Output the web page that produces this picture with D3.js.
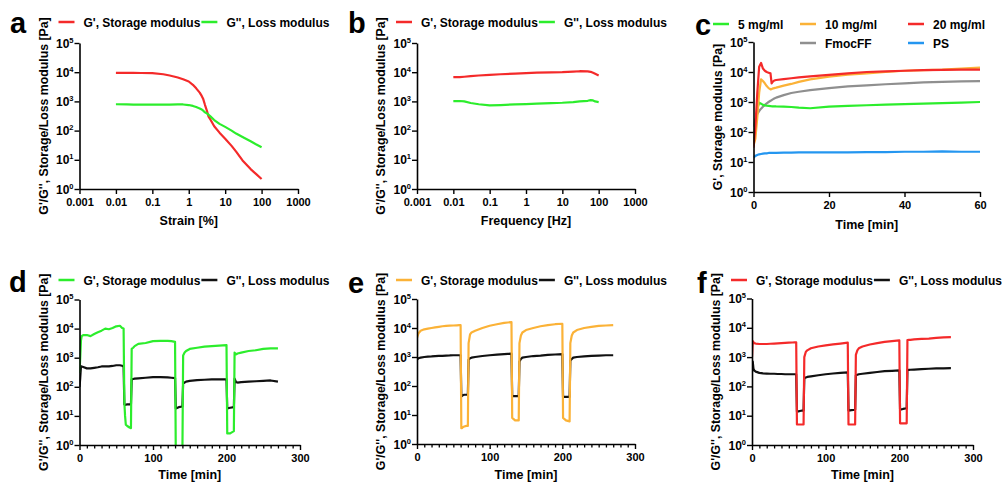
<!DOCTYPE html>
<html>
<head>
<meta charset="utf-8">
<script src="https://cdn.jsdelivr.net/npm/d3@7"></script>
<style>
body { margin: 0; background: #fff; }
svg { font-family: "Liberation Sans", Arial, sans-serif; font-weight: bold; }
</style>
</head>
<body>
<svg id="chart" width="1008" height="483"></svg>
<script>
// ---- data ----
const modTicks = [1, 10, 100, 1000, 10000, 100000];
const logTicks = [0.001, 0.01, 0.1, 1, 10, 100, 1000];
const logTickLabels = ["0.001", "0.01", "0.1", "1", "10", "100", "1000"];

// a: strain sweep
const strain = [0.01, 0.02, 0.03, 0.05, 0.1, 0.2, 0.3, 0.5, 0.7, 1, 1.3, 1.6, 2, 2.2, 2.5, 2.8, 3.2, 3.5, 4, 5, 7, 10, 15, 20, 30, 50, 70, 100];
const strainStorage = [9500, 9500, 9500, 9400, 9300, 8500, 7700, 6600, 5700, 4800, 3700, 2800, 2000, 1650, 1200, 750, 450, 300, 230, 140, 85, 53, 30, 19, 9.5, 4.8, 3.3, 2.2];
const strainLoss = [800, 790, 780, 775, 770, 775, 780, 790, 785, 750, 700, 640, 575, 540, 480, 420, 380, 350, 300, 230, 170, 134, 100, 79, 60, 43, 34, 27];

// b: frequency sweep
const freq = [0.01, 0.015, 0.02, 0.03, 0.05, 0.1, 0.2, 0.5, 1, 2, 5, 10, 20, 30, 50, 60, 70, 80, 100];
const freqStorage = [6760, 6800, 7000, 7300, 7700, 8100, 8500, 9000, 9300, 9600, 9800, 10000, 10500, 10800, 10700, 10300, 9500, 8800, 7700];
const freqLoss = [1030, 1030, 1000, 880, 800, 730, 750, 790, 810, 840, 870, 900, 950, 1000, 1050, 1110, 1080, 1000, 950];

// c: time sweep
const cureTime = [0, 0.5, 1, 1.5, 2, 2.5, 3, 3.5, 4, 4.5, 4.8, 5, 5.5, 6, 8, 10, 12, 15, 20, 25, 30, 35, 40, 45, 50, 55, 60];
const cure5 = [45, 150, 600, 950, 880, 800, 770, 750, 740, 730, 720, 720, 715, 710, 700, 680, 650, 620, 700, 740, 780, 820, 850, 880, 920, 960, 1000];
const cure10 = [35, 60, 300, 2000, 5700, 5000, 4200, 3400, 2900, 2650, 2700, 2800, 2900, 3000, 3500, 4000, 4700, 5700, 7000, 8200, 9000, 10000, 11000, 11500, 12000, 13000, 14000];
const cure20 = [30, 150, 2000, 15000, 20000, 13000, 11000, 10000, 9500, 9000, 4200, 4600, 5200, 5400, 5800, 6200, 6600, 7100, 8000, 9000, 10000, 10500, 11000, 11500, 11800, 12000, 12000];
const cureFmoc = [150, 250, 400, 500, 600, 700, 800, 900, 1000, 1100, 1150, 1200, 1300, 1400, 1700, 2000, 2200, 2500, 2900, 3300, 3600, 3900, 4200, 4500, 4700, 4900, 5000];
const curePS = [14, 16, 17, 18, 18.5, 19, 19.5, 19.5, 20, 20, 20, 20, 20, 20, 20.5, 20.5, 21, 21, 21, 21, 21.5, 21.5, 22, 22, 22.5, 22, 22];

// d-f: step strain recovery
const stepTime = [0, 1, 2, 3, 5,
  10, 15, 20, 25, 30, 35, 40, 45, 50, 55,
  58, 60,
  61, 62, 63, 65, 68, 70,
  71, 73, 75, 80,
  90, 100, 110, 120, 125, 130,
  131, 135, 140,
  141, 143, 145, 150,
  160, 170, 180, 190, 200,
  201, 205, 210,
  211, 213, 215, 220,
  230, 240, 250, 260, 270];

const dStorage = [300, 1000, 4000, 5500, 6000,
  6000, 5500, 6500, 7500, 8500, 10000, 9500, 10500, 12000, 12500,
  10500, 10000,
  30, 10, 5, 4.5, 4, 3.8,
  2000, 2200, 2500, 3000,
  3200, 3700, 3800, 3800, 3700, 3500,
  0.5, 0.5, 0.5,
  1200, 1500, 1700, 2000,
  2200, 2400, 2500, 2600, 2700,
  2.5, 2.5, 3,
  1500, 1300, 1400, 1500,
  1700, 1800, 2000, 2100, 2100];
const dLoss = [100, 200, 500, 500, 480,
  430, 430, 450, 470, 500, 500, 500, 520, 550, 550,
  530, 500,
  25, 24, 24, 25, 25, 25,
  180, 185, 190, 195,
  205, 215, 215, 210, 205, 200,
  18, 20, 21,
  130, 140, 150, 160,
  170, 175, 180, 180, 180,
  18, 19, 20,
  190, 145, 140, 145,
  150, 155, 160, 165, 150];

const eStorage = [4500, 5500, 6500, 7000, 8000,
  9000, 9500, 10000, 10500, 11000, 11500, 11800, 12000, 12200, 12400,
  12500, 12500,
  3.5, 3.5, 3.8, 4, 4.2, 4.2,
  3000, 6000, 7000, 8000,
  10000, 12000, 13500, 15000, 15500, 16000,
  8, 6.5, 6.5,
  3000, 5500, 7000, 8500,
  10000, 11500, 12500, 13500, 14000,
  8, 6.5, 6,
  3000, 5500, 7000, 8500,
  10000, 11000, 11800, 12200, 12500];
const eLoss = [800, 850, 900, 920, 950,
  1000, 1030, 1050, 1080, 1100, 1100, 1120, 1130, 1150, 1150,
  1150, 1150,
  45, 45, 48, 50, 50, 50,
  800, 900, 950, 1000,
  1080, 1150, 1200, 1250, 1280, 1300,
  45, 45, 45,
  700, 850, 950, 1000,
  1080, 1120, 1180, 1220, 1250,
  42, 42, 42,
  750, 850, 950, 1000,
  1050, 1100, 1120, 1150, 1150];

const fStorage = [1000, 3500, 3200, 3000, 2900,
  2800, 2800, 2800, 2850, 2900, 2950, 3000, 3050, 3100, 3150,
  3200, 3200,
  5, 5, 5, 5, 5, 5,
  1000, 1500, 1700, 2000,
  2300, 2500, 2700, 2900, 3000, 3100,
  5, 5, 5,
  1200, 1700, 2000, 2300,
  2700, 3000, 3300, 3500, 3700,
  5.5, 5.5, 5.5,
  3800, 3850, 3900, 4000,
  4200, 4300, 4500, 4700, 4800];
const fLoss = [300, 700, 400, 350, 320,
  290, 280, 275, 270, 270, 265, 265, 260, 260, 260,
  260, 260,
  14, 14, 14, 14.5, 15, 15,
  190, 200, 210, 220,
  240, 260, 275, 290, 295, 300,
  15, 15.5, 16,
  240, 250, 260, 270,
  290, 310, 330, 340, 350,
  16, 17, 18,
  360, 365, 370, 375,
  390, 400, 410, 415, 420];

const RED = '#f42a2a', GREEN = '#2ced2c', ORANGE = '#fbb237', GRAY = '#8f8f8f', BLUE = '#2496f0', BLACK = '#111';
const twoTitle = "G'/G'', Storage/Loss modulus [Pa]";

const svg = d3.select('#chart');

const panels = [
  { id: 'a', left: 79.5, right: 298, top: 43, bottom: 189, log: true, xTitle: 'Strain [%]', titleDy: 36, yTitle: twoTitle,
    letterX: 10, letterY: 33, legY: 22,
    legend: [{ name: "G', Storage modulus", color: RED }, { name: "G'', Loss modulus", color: GREEN }],
    series: [{ x: strain, v: strainStorage, color: RED }, { x: strain, v: strainLoss, color: GREEN }] },
  { id: 'b', left: 417, right: 635, top: 43, bottom: 189, log: true, xTitle: 'Frequency [Hz]', titleDy: 36, yTitle: twoTitle,
    letterX: 348, letterY: 33, legY: 22,
    legend: [{ name: "G', Storage modulus", color: RED }, { name: "G'', Loss modulus", color: GREEN }],
    series: [{ x: freq, v: freqStorage, color: RED }, { x: freq, v: freqLoss, color: GREEN }] },
  { id: 'c', left: 753.5, right: 980, top: 42, bottom: 192, domain: [0, 60], ticks: [0, 20, 40, 60], xTitle: 'Time [min]', titleDy: 37, yTitle: "G', Storage modulus [Pa]",
    letterX: 695, letterY: 35,
    series: [{ x: cureTime, v: curePS, color: BLUE }, { x: cureTime, v: cureFmoc, color: GRAY },
      { x: cureTime, v: cure5, color: GREEN }, { x: cureTime, v: cure10, color: ORANGE }, { x: cureTime, v: cure20, color: RED }] },
  { id: 'd', left: 79.5, right: 300, top: 299.5, bottom: 445, domain: [0, 300], ticks: [0, 100, 200, 300], minor: true, xTitle: 'Time [min]', titleDy: 34, yTitle: twoTitle,
    letterX: 9, letterY: 292, legY: 280,
    legend: [{ name: "G', Storage modulus", color: GREEN }, { name: "G'', Loss modulus", color: BLACK }],
    series: [{ x: stepTime, v: dLoss, color: BLACK }, { x: stepTime, v: dStorage, color: GREEN }] },
  { id: 'e', left: 417, right: 635, top: 299, bottom: 444, domain: [0, 300], ticks: [0, 100, 200, 300], minor: true, xTitle: 'Time [min]', titleDy: 35, yTitle: twoTitle,
    letterX: 348, letterY: 293, legY: 280,
    legend: [{ name: "G', Storage modulus", color: ORANGE }, { name: "G'', Loss modulus", color: BLACK }],
    series: [{ x: stepTime, v: eLoss, color: BLACK }, { x: stepTime, v: eStorage, color: ORANGE }] },
  { id: 'f', left: 752, right: 973, top: 298.5, bottom: 445, domain: [0, 300], ticks: [0, 100, 200, 300], minor: true, xTitle: 'Time [min]', titleDy: 34, yTitle: twoTitle,
    letterX: 697, letterY: 293, legY: 280,
    legend: [{ name: "G', Storage modulus", color: RED }, { name: "G'', Loss modulus", color: BLACK }],
    series: [{ x: stepTime, v: fLoss, color: BLACK }, { x: stepTime, v: fStorage, color: RED }] }
];

panels.forEach(drawPanel);

// legend for c (two rows, three columns)
const cLegend = [
  { name: '5 mg/ml', color: GREEN, col: 0, row: 0 },
  { name: '10 mg/ml', color: ORANGE, col: 1, row: 0 },
  { name: '20 mg/ml', color: RED, col: 2, row: 0 },
  { name: 'FmocFF', color: GRAY, col: 1, row: 1 },
  { name: 'PS', color: BLUE, col: 2, row: 1 }
];
const cColX = [713, 800, 908];
cLegend.forEach(function(d) {
  let ly = 24 + d.row * 19;
  let sx = cColX[d.col];
  svg.append('line').attr('x1', sx).attr('x2', sx + 16).attr('y1', ly).attr('y2', ly)
    .attr('stroke', d.color).attr('stroke-width', 2.5);
  svg.append('text').attr('x', sx + 25).attr('y', ly + 4.5).attr('font-size', 12).text(d.name);
});

function drawPanel(p) {
  let g = svg.append('g');
  let x = p.log
    ? d3.scaleLog().domain([0.001, 1000]).range([p.left, p.right])
    : d3.scaleLinear().domain(p.domain).range([p.left, p.right]);
  let y = d3.scaleLog().domain([1, 100000]).range([p.bottom, p.top]);

  // clip so values below 10^0 stop at the axis
  svg.append('clipPath').attr('id', 'clip-' + p.id)
    .append('rect')
    .attr('x', p.left).attr('y', p.top - 20)
    .attr('width', p.right - p.left + 5).attr('height', p.bottom - p.top + 20);

  let line = d3.line().x(d => x(d[0])).y(d => y(d[1]));
  p.series.forEach(function(s) {
    g.append('path')
      .datum(s.v.map((v, i) => [s.x[i], v]))
      .attr('clip-path', 'url(#clip-' + p.id + ')')
      .attr('fill', 'none')
      .attr('stroke', s.color)
      .attr('stroke-width', 2.2)
      .attr('stroke-linejoin', 'round')
      .attr('d', line);
  });

  // y axis
  let ya = g.append('g').attr('transform', 'translate(' + p.left + ',0)')
    .call(d3.axisLeft(y).tickValues(modTicks).tickSize(5).tickSizeOuter(0).tickFormat(''));
  ya.selectAll('text').remove();
  modTicks.forEach(function(v, i) {
    let t = g.append('text').attr('x', p.left - 6).attr('y', y(v) + 4.5).attr('text-anchor', 'end');
    t.append('tspan').attr('font-size', 12).text('10');
    t.append('tspan').attr('font-size', 7.5).attr('dy', -5).text(i);
  });

  // x axis
  let xAxis = p.log
    ? d3.axisBottom(x).tickValues(logTicks).tickFormat((d, i) => logTickLabels[i])
    : d3.axisBottom(x).tickValues(p.ticks).tickFormat(d3.format('d'));
  let xa = g.append('g').attr('transform', 'translate(0,' + p.bottom + ')')
    .call(xAxis.tickSize(5).tickSizeOuter(0).tickPadding(4));
  if (p.minor) {
    let minorTicks = d3.range(p.domain[0], p.domain[1] + 1, 10).filter(d => d % 100 !== 0);
    g.append('g').attr('transform', 'translate(0,' + p.bottom + ')')
      .call(d3.axisBottom(x).tickValues(minorTicks).tickSize(3.5).tickFormat(''))
      .call(a => a.select('.domain').remove())
      .selectAll('line').attr('stroke-width', 1.3);
  }
  [ya, xa].forEach(function(a) {
    a.attr('font-family', null).attr('font-size', null);
    a.select('.domain').attr('stroke', '#000').attr('stroke-width', 1.6);
    a.selectAll('.tick line').attr('stroke', '#000').attr('stroke-width', 1.4);
  });
  xa.selectAll('text').attr('font-size', 11).attr('fill', '#000');

  // titles
  g.append('text')
    .attr('x', (p.left + p.right) / 2).attr('y', p.bottom + p.titleDy)
    .attr('text-anchor', 'middle').attr('font-size', 12.5)
    .text(p.xTitle);
  g.append('text')
    .attr('transform', 'translate(' + (p.left - 32) + ',' + ((p.top + p.bottom) / 2) + ') rotate(-90)')
    .attr('text-anchor', 'middle').attr('font-size', 12.3)
    .text(p.yTitle);

  // panel letter
  g.append('text').attr('x', p.letterX).attr('y', p.letterY).attr('font-size', 29).text(p.id);

  // legend
  if (p.legend) {
    let lx = p.left - 21;
    p.legend.forEach(function(item, i) {
      g.append('line').attr('x1', lx).attr('x2', lx + 16).attr('y1', p.legY).attr('y2', p.legY)
        .attr('stroke', item.color).attr('stroke-width', 2.5);
      let t = g.append('text').attr('x', lx + 25).attr('y', p.legY + 4.5).attr('font-size', 12).text(item.name);
      lx = lx + 25 + t.node().getComputedTextLength() + 1;
    });
  }
}
</script>
</body>
</html>
